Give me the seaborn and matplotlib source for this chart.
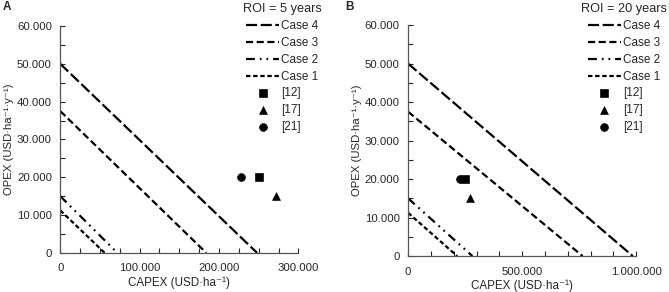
import numpy as np
import pandas as pd
import seaborn as sns
import matplotlib.pyplot as plt
from matplotlib.ticker import MultipleLocator, FuncFormatter

# data
cases = ["Case 4", "Case 3", "Case 2", "Case 1"]
opex_intercept = [50000, 37500, 15000, 11250]
capex_intercept_5y = [248000, 184000, 72000, 56000]
capex_intercept_20y = [985000, 765000, 282000, 215000]

refs = ["[12]", "[17]", "[21]"]
ref_capex = [250000, 272000, 228000]
ref_opex = [20000, 15000, 20000]

sns.set_style("ticks")
plt.rcParams["font.family"] = ["Liberation Sans", "DejaVu Sans"]

case_dashes = {
    "Case 4": (0, (5.0, 1.6)),
    "Case 3": (0, (3.2, 1.6)),
    "Case 2": (0, (4.0, 2.2, 0.8, 2.2, 0.8, 2.2)),
    "Case 1": (0, (2.0, 1.2)),
}
ref_markers = {"[12]": "s", "[17]": "^", "[21]": "o"}


def thousands(v, pos):
    return f"{v:,.0f}".replace(",", ".")


def panel(ax, capex_intercept, xmax, xmajor, xminor, title, letter, leg_x, letter_x):
    for name, y0, x0 in zip(cases, opex_intercept, capex_intercept):
        d = pd.DataFrame({"capex": [0, x0], "opex": [y0, 0]})
        sns.lineplot(data=d, x="capex", y="opex", ax=ax, color="black",
                     linewidth=1.6, linestyle=case_dashes[name], label=name)
    for name, x, y in zip(refs, ref_capex, ref_opex):
        sns.scatterplot(x=[x], y=[y], ax=ax, color="black", marker=ref_markers[name],
                        s=32, edgecolor="black", label=name, zorder=3)
    ax.set_xlim(0, xmax)
    ax.set_ylim(0, 60000)
    ax.xaxis.set_major_locator(MultipleLocator(xmajor))
    ax.xaxis.set_minor_locator(MultipleLocator(xminor))
    ax.yaxis.set_major_locator(MultipleLocator(10000))
    ax.yaxis.set_minor_locator(MultipleLocator(5000))
    ax.xaxis.set_major_formatter(FuncFormatter(thousands))
    ax.yaxis.set_major_formatter(FuncFormatter(thousands))
    ax.tick_params(which="both", direction="in", length=3.5, width=0.8, labelsize=8.2)
    ax.tick_params(axis="x", pad=7.5)
    ax.tick_params(axis="y", pad=6)
    for s in ["left", "bottom"]:
        ax.spines[s].set_color("#555555")
        ax.spines[s].set_linewidth(0.9)
    sns.despine(ax=ax)
    ax.set_xlabel("CAPEX (USD·ha⁻¹)", fontsize=8.4, labelpad=2)
    ax.set_ylabel("OPEX (USD·ha⁻¹·y⁻¹)", fontsize=8.2, labelpad=2)
    leg = ax.legend(title=title, loc="upper left", bbox_to_anchor=(leg_x, 0.99),
                    bbox_transform=fig.transFigure,
                    frameon=False, fontsize=8.5, title_fontsize=9.2,
                    handlelength=2.8, handletextpad=0.2, labelspacing=0.4,
                    borderaxespad=0, borderpad=0)
    leg._legend_box.sep = 4
    fig.text(letter_x, 0.975, letter, fontsize=8.5, fontweight="bold", va="center")


fig = plt.figure(figsize=(6.69, 2.92), dpi=100)
ax1 = fig.add_axes([0.09, 0.134, 0.356, 0.777])
ax2 = fig.add_axes([0.61, 0.123, 0.341, 0.791])

panel(ax1, capex_intercept_5y, 300000, 100000, 25000, "ROI = 5 years", "A", 243 / 669, 3 / 669)
panel(ax2, capex_intercept_20y, 1000000, 500000, 100000, "ROI = 20 years", "B", 581 / 669, 345 / 669)

fig.savefig("out.png", dpi=100)
